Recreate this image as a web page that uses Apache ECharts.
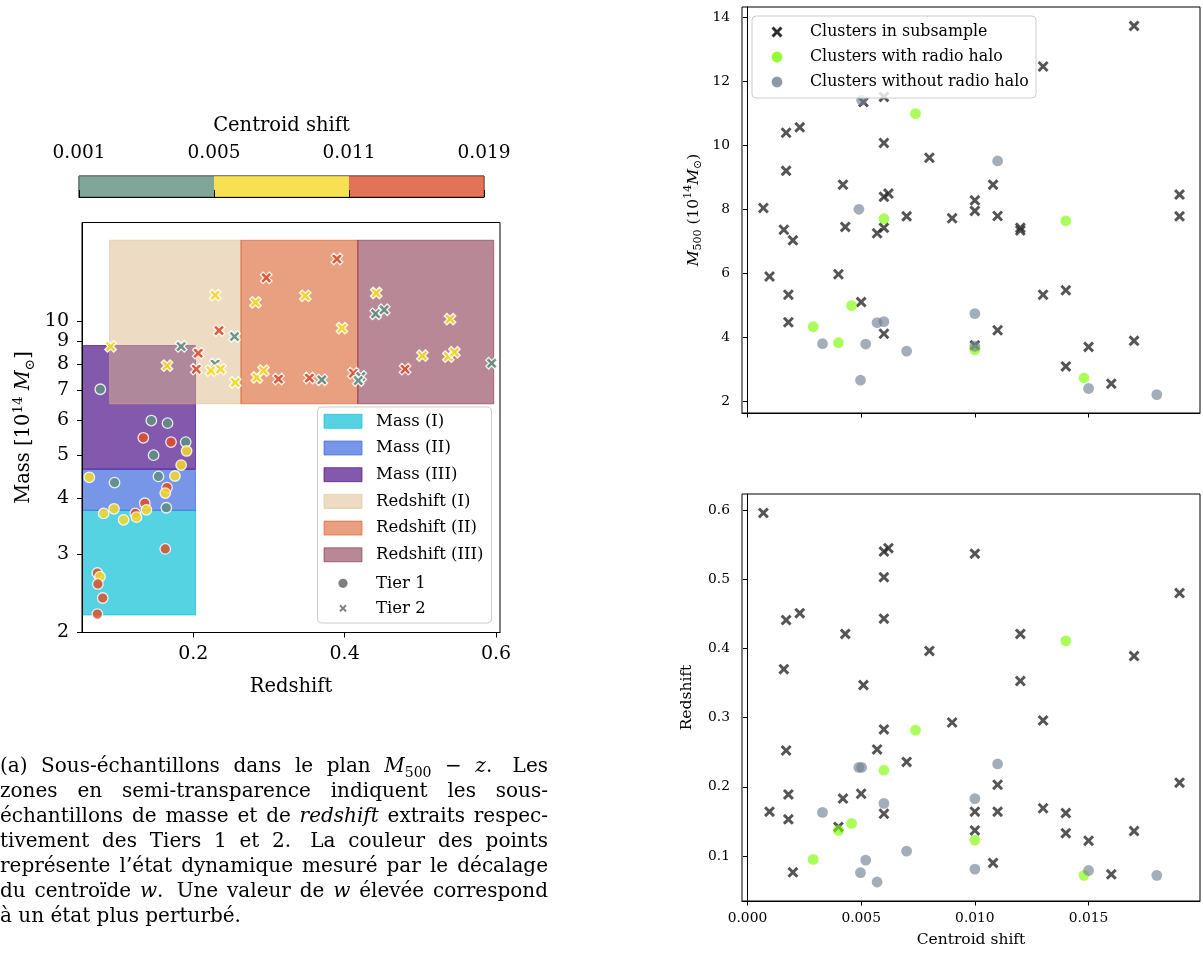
<!DOCTYPE html>
<html>
<head>
<meta charset="utf-8">
<script src="https://cdn.jsdelivr.net/npm/echarts@6/dist/echarts.min.js"></script>
<style>
  html, body { margin: 0; padding: 0; background: #fff; }
  #chart { width: 1203px; height: 956px; }
</style>
</head>
<body>
<div id="chart"></div>
<script>
// colour bar (centroid shift classes)
const shiftBounds = ['0.001', '0.005', '0.011', '0.019']
const shiftColors = ['#5f9080', '#f5d928', '#dc502d']

// left panel : sub-samples in the M500 - z plane
const redshiftTicks = [0.2, 0.4, 0.6]
const massTicks = [2, 3, 4, 5, 6, 7, 8, 9, 10]
const massBinNames = ['Mass (I)', 'Mass (II)', 'Mass (III)']
const massBinLimits = [[2.19, 3.76], [3.76, 4.65], [4.65, 8.81]]
const massBinRedshift = [0.053, 0.203]
const massBinColors = ['rgba(14,192,214,0.7)', 'rgba(62,105,222,0.7)', 'rgba(79,18,139,0.7)']
const zBinNames = ['Redshift (I)', 'Redshift (II)', 'Redshift (III)']
const zBinLimits = [[0.0895, 0.263], [0.263, 0.4174], [0.4174, 0.597]]
const zBinMass = [6.52, 15.18]
const zBinColors = ['rgba(222,184,135,0.5)', 'rgba(211,65,1,0.5)', 'rgba(115,17,45,0.5)']

// [redshift, mass 1e14 Msun, shift class]
const tier1 = [
  [0.0627, 4.46, 1], [0.096, 4.34, 0], [0.1446, 5.98, 0], [0.166, 5.90, 0],
  [0.134, 5.47, 2], [0.1706, 5.35, 2], [0.190, 5.35, 0], [0.1912, 5.11, 1],
  [0.1476, 5.00, 0], [0.184, 4.75, 1], [0.154, 4.48, 0], [0.1758, 4.49, 1],
  [0.1653, 4.23, 2], [0.163, 4.11, 1], [0.0816, 3.70, 1], [0.0953, 3.79, 1],
  [0.108, 3.58, 1], [0.1234, 3.70, 2], [0.125, 3.63, 1], [0.136, 3.90, 2],
  [0.1381, 3.77, 1], [0.1644, 3.81, 0], [0.163, 3.08, 2], [0.0733, 2.72, 2],
  [0.0768, 2.67, 1], [0.074, 2.57, 2], [0.0804, 2.39, 2], [0.0733, 2.20, 2],
  [0.0772, 7.03, 0]
]
const tier2 = [
  [0.0908, 8.77, 1], [0.1653, 7.94, 1], [0.184, 8.77, 0], [0.2066, 8.47, 2],
  [0.204, 7.80, 2], [0.229, 8.01, 0], [0.2234, 7.74, 1], [0.236, 7.80, 1],
  [0.2554, 7.28, 1], [0.2545, 9.23, 0], [0.234, 9.52, 2], [0.229, 11.43, 1],
  [0.2964, 12.50, 2], [0.2822, 11.01, 1], [0.284, 7.47, 1], [0.2928, 7.74, 1],
  [0.3126, 7.41, 2], [0.3898, 13.78, 2], [0.348, 11.39, 1], [0.3964, 9.64, 1],
  [0.3535, 7.45, 2], [0.3698, 7.38, 0], [0.4116, 7.64, 2], [0.4213, 7.51, 0],
  [0.418, 7.35, 0], [0.4418, 11.56, 1], [0.441, 10.38, 0], [0.4522, 10.60, 0],
  [0.5393, 10.10, 1], [0.5027, 8.36, 1], [0.537, 8.32, 1], [0.545, 8.51, 1],
  [0.4799, 7.80, 2], [0.5943, 8.04, 0]
]

// right panels : centroid shift vs M500 and redshift
const shiftTicks = [0, 0.005, 0.010, 0.015]
const m500Ticks = [2, 4, 6, 8, 10, 12, 14]
const zTicks = [0.1, 0.2, 0.3, 0.4, 0.5, 0.6]

const subShift = [0.0007, 0.00097, 0.0017, 0.0017, 0.0016, 0.0018, 0.0018, 0.0020, 0.0023,
  0.0040, 0.0042, 0.0043, 0.0051, 0.0050, 0.0057, 0.0060, 0.0060, 0.0060, 0.0062, 0.0060,
  0.0060, 0.0070, 0.0080, 0.0090, 0.0100, 0.0100, 0.0100, 0.0108, 0.0110, 0.0110, 0.0120,
  0.0120, 0.0130, 0.0130, 0.0140, 0.0140, 0.0150, 0.0160, 0.0170, 0.0170, 0.0190, 0.0190]
const subMass = [8.04, 5.90, 10.39, 9.20, 7.36, 5.33, 4.47, 7.03, 10.56,
  5.97, 8.77, 7.45, 11.35, 5.10, 7.25, 11.51, 10.07, 8.39, 8.49, 7.42,
  4.11, 7.78, 9.61, 7.72, 8.28, 7.95, 3.75, 8.77, 7.79, 4.22, 7.42,
  7.34, 12.46, 5.33, 5.47, 3.09, 3.70, 2.55, 13.73, 3.89, 8.46, 7.78]
const subRedshift = [0.596, 0.164, 0.441, 0.2525, 0.370, 0.189, 0.153, 0.0764, 0.451,
  0.142, 0.183, 0.421, 0.347, 0.190, 0.254, 0.540, 0.503, 0.443, 0.545, 0.283,
  0.161, 0.236, 0.3965, 0.293, 0.537, 0.164, 0.137, 0.090, 0.203, 0.164, 0.421,
  0.353, 0.296, 0.169, 0.162, 0.133, 0.122, 0.0735, 0.389, 0.136, 0.480, 0.206]

const haloShift = [0.00739, 0.0060, 0.0140, 0.00458, 0.00289, 0.0040, 0.0100, 0.0148]
const haloMass = [10.99, 7.71, 7.64, 4.99, 4.33, 3.83, 3.61, 2.73]
const haloRedshift = [0.282, 0.224, 0.411, 0.147, 0.095, 0.137, 0.123, 0.072]

const noHaloShift = [0.00502, 0.0110, 0.0049, 0.0100, 0.0057, 0.0060, 0.0033, 0.0052,
  0.0070, 0.0100, 0.00497, 0.0150, 0.0180]
const noHaloMass = [11.41, 9.51, 8.00, 4.74, 4.46, 4.49, 3.80, 3.79, 3.57, 3.72, 2.66, 2.40, 2.21]
const noHaloRedshift = [0.228, 0.233, 0.228, 0.183, 0.0624, 0.176, 0.163, 0.094, 0.107,
  0.081, 0.076, 0.079, 0.072]

// caption under the left panel
const captionLines = [
  '(a) Sous-échantillons dans le plan *M*_500 − *z*. Les',
  'zones en semi-transparence indiquent les sous-',
  'échantillons de masse et de *redshift* extraits respec-',
  'tivement des Tiers 1 et 2. La couleur des points',
  'représente l’état dynamique mesuré par le décalage',
  'du centroïde *w*. Une valeur de *w* élevée correspond',
  'à un état plus perturbé.'
]

const FONT = '"DejaVu Serif", serif'
const X_BOLD = 'path://M0,2.3L2.3,0L5,2.7L7.7,0L10,2.3L7.3,5L10,7.7L7.7,10L5,7.3L2.3,10L0,7.7L2.7,5Z'
const X_PTS = [[0, 1.9], [1.9, 0], [5, 3.1], [8.1, 0], [10, 1.9], [6.9, 5], [10, 8.1], [8.1, 10], [5, 6.9], [1.9, 10], [0, 8.1], [3.1, 5]]
const X_THIN = 'path://M' + X_PTS.map((p) => p.join(',')).join('L') + 'Z'
const HALO = 'rgba(124,252,0,0.8)'
const NOHALO = 'rgba(112,128,144,0.8)'
const CROSS = '#2b2b2b'

const zip = (a, b) => a.map((v, i) => [v, b[i]])
const log10 = Math.log10

function rectSeries(name, x, y, color, xi) {
  return {
    name: name,
    type: 'custom',
    xAxisIndex: xi,
    yAxisIndex: xi,
    clip: true,
    silent: true,
    data: [[x[0], x[1], y[0], y[1]]],
    renderItem: function (params, api) {
      const p0 = api.coord([api.value(0), api.value(2)])
      const p1 = api.coord([api.value(1), api.value(3)])
      return {
        type: 'rect',
        shape: { x: p0[0], y: p1[1], width: p1[0] - p0[0], height: p0[1] - p1[1] },
        style: { fill: color, stroke: color, lineWidth: 1 },
      }
    },
  }
}

function axisBase(extra) {
  return Object.assign({
    type: 'value',
    splitLine: { show: false },
    axisLine: { show: true, lineStyle: { color: '#000', width: 1 } },
    nameTextStyle: { fontFamily: FONT, color: '#000' },
    z: 5,
  }, extra)
}

function ticks(values, len) {
  return { show: true, customValues: values, length: len, lineStyle: { color: '#000', width: 1 } }
}

function labels(values, size, margin, fmt) {
  return { show: true, customValues: values, fontFamily: FONT, fontSize: size, color: '#000', margin: margin, formatter: fmt }
}

// justified caption, one text element per word piece
function buildCaption() {
  const ctx = document.createElement('canvas').getContext('2d')
  const left = 0, width = 548, top = 767, step = 25
  const fontOf = (k) => (k === 'it' ? 'italic ' : '') + (k === 'sub' ? 14 : 20) + 'px ' + FONT
  ctx.font = fontOf('rm')
  const spaceW = ctx.measureText(' ').width
  const els = []
  captionLines.forEach((line, i) => {
    const y = top + i * step
    const words = line.split(' ').map((w) => {
      const segs = []
      w.replace(/\*([^*]+)\*|_([^\s*_]+)|([^*_]+)/g, (m, it, sub, rm) => {
        segs.push(it ? ['it', it] : sub ? ['sub', sub] : ['rm', rm])
      })
      let wd = 0
      segs.forEach((s) => { ctx.font = fontOf(s[0]); s.push(ctx.measureText(s[1]).width); wd += s[2] })
      return { segs: segs, width: wd, plain: w.replace(/\*/g, '') }
    })
    const total = words.reduce((a, w) => a + w.width, 0)
    const weights = words.slice(0, -1).map((w) => (/\.$/.test(w.plain) ? 1.5 : 1))
    const last = i === captionLines.length - 1
    const unit = last ? spaceW : (width - total) / weights.reduce((a, b) => a + b, 0)
    let x = left
    words.forEach((w, k) => {
      w.segs.forEach((s) => {
        els.push({
          type: 'text', x: x, y: y + (s[0] === 'sub' ? 6 : 0), silent: true,
          style: { text: s[1], font: fontOf(s[0]), fill: '#000', textVerticalAlign: 'middle', verticalAlign: 'middle' },
        })
        x += s[2]
      })
      if (k < weights.length) x += unit * weights[k]
    })
  })
  return els
}

function legendText(x, y, text, size) {
  return { type: 'text', x: x, y: y, z: 101, silent: true,
    style: { text: text, font: size + 'px ' + FONT, fill: '#000', textVerticalAlign: 'middle', verticalAlign: 'middle' } }
}

function legendCross(cx, cy, size, color) {
  const k = size / 10
  return { type: 'polygon', z: 101, silent: true,
    shape: { points: X_PTS.map((p) => [cx - size / 2 + p[0] * k, cy - size / 2 + p[1] * k]) },
    style: { fill: color } }
}

function buildLegends() {
  const els = []
  // left panel legend
  els.push({ type: 'rect', z: 100, silent: true, shape: { x: 317.5, y: 407, width: 174, height: 216, r: 4 },
    style: { fill: 'rgba(255,255,255,0.8)', stroke: '#cccccc', lineWidth: 1 } })
  const names = massBinNames.concat(zBinNames)
  const colors = massBinColors.concat(zBinColors)
  names.forEach((n, i) => {
    const y = 421.3 + i * 26.7
    els.push({ type: 'rect', z: 101, silent: true, shape: { x: 324, y: y - 7, width: 38, height: 14 },
      style: { fill: colors[i], stroke: colors[i], lineWidth: 1 } })
    els.push(legendText(376, y, n, 16.5))
  })
  els.push({ type: 'circle', z: 101, silent: true, shape: { cx: 343, cy: 583.3, r: 4.6 }, style: { fill: '#808080' } })
  els.push(legendText(376, 583.3, 'Tier 1', 16.5))
  els.push(legendCross(343, 608.3, 7.4, '#808080'))
  els.push(legendText(376, 608.3, 'Tier 2', 16.5))

  // right panel legend
  els.push({ type: 'rect', z: 100, silent: true, shape: { x: 752, y: 16, width: 284, height: 82, r: 4 },
    style: { fill: 'rgba(255,255,255,0.8)', stroke: '#cccccc', lineWidth: 1 } })
  els.push(legendCross(777, 32, 11, CROSS))
  els.push(legendText(810, 32, 'Clusters in subsample', 15.8))
  els.push({ type: 'circle', z: 101, silent: true, shape: { cx: 777, cy: 57, r: 5.4 }, style: { fill: HALO } })
  els.push(legendText(810, 57, 'Clusters with radio halo', 15.8))
  els.push({ type: 'circle', z: 101, silent: true, shape: { cx: 777, cy: 82, r: 5.4 }, style: { fill: NOHALO } })
  els.push(legendText(810, 82, 'Clusters without radio halo', 15.8))
  return els
}

const chart = echarts.init(document.getElementById('chart'), null, { renderer: 'canvas' })

const gridStyle = { show: true, borderColor: '#000', borderWidth: 1, backgroundColor: 'transparent', containLabel: false, outerBoundsMode: 'none' }

const series = []
// colour bar cells
series.push({
  name: 'colorbar', type: 'custom', xAxisIndex: 0, yAxisIndex: 0, silent: true,
  data: shiftColors.map((c, i) => [i, i + 1, i]),
  renderItem: function (params, api) {
    const p0 = api.coord([api.value(0), 0])
    const p1 = api.coord([api.value(1), 1])
    return { type: 'rect', shape: { x: p0[0], y: p1[1], width: p1[0] - p0[0], height: p0[1] - p1[1] },
      style: { fill: shiftColors[api.value(2)], opacity: 0.8 } }
  },
})
massBinNames.forEach((n, i) => {
  series.push(rectSeries(n, massBinRedshift, massBinLimits[i].map(log10), massBinColors[i], 1))
})
zBinNames.forEach((n, i) => {
  series.push(rectSeries(n, zBinLimits[i], zBinMass.map(log10), zBinColors[i], 1))
})
series.push({
  name: 'Tier 1', type: 'scatter', xAxisIndex: 1, yAxisIndex: 1, silent: true,
  symbol: 'circle', symbolSize: 10.5,
  data: tier1.map((d) => [d[0], log10(d[1]), d[2]]),
  itemStyle: { color: (p) => shiftColors[p.data[2]], borderColor: '#fff', borderWidth: 1.3, opacity: 0.85 },
})
series.push({
  name: 'Tier 2', type: 'scatter', xAxisIndex: 1, yAxisIndex: 1, silent: true,
  symbol: X_BOLD, symbolSize: 11.5,
  data: tier2.map((d) => [d[0], log10(d[1]), d[2]]),
  itemStyle: { color: (p) => shiftColors[p.data[2]], borderColor: '#fff', borderWidth: 1.3, opacity: 0.9 },
})
// right panels
;[[2, subMass, haloMass, noHaloMass], [3, subRedshift, haloRedshift, noHaloRedshift]].forEach((g) => {
  series.push({ name: 'Clusters in subsample', type: 'scatter', xAxisIndex: g[0], yAxisIndex: g[0], silent: true,
    symbol: X_THIN, symbolSize: 11, data: zip(subShift, g[1]), itemStyle: { color: CROSS } })
  series.push({ name: 'Clusters with radio halo', type: 'scatter', xAxisIndex: g[0], yAxisIndex: g[0], silent: true,
    symbol: 'circle', symbolSize: 10.8, data: zip(haloShift, g[2]), itemStyle: { color: HALO } })
  series.push({ name: 'Clusters without radio halo', type: 'scatter', xAxisIndex: g[0], yAxisIndex: g[0], silent: true,
    symbol: 'circle', symbolSize: 10.8, data: zip(noHaloShift, g[3]), itemStyle: { color: NOHALO } })
})

const cbIdx = [0, 1, 2, 3]
const option = {
  animation: false,
  backgroundColor: '#fff',
  grid: [
    Object.assign({ left: 79, top: 176, width: 405, height: 21 }, gridStyle),
    Object.assign({ left: 82, top: 222.5, width: 418, height: 410 }, gridStyle),
    Object.assign({ left: 742, top: 7, width: 458, height: 406 }, gridStyle),
    Object.assign({ left: 742, top: 494, width: 458, height: 407 }, gridStyle),
  ],
  xAxis: [
    axisBase({ gridIndex: 0, min: 0, max: 3, position: 'top',
      axisTick: ticks(cbIdx, 7), axisLabel: labels(cbIdx, 18.5, 13, (v) => shiftBounds[Math.round(v)]),
      name: 'Centroid shift', nameLocation: 'middle', nameGap: 40,
      nameTextStyle: { fontFamily: FONT, fontSize: 19.5, color: '#000' } }),
    axisBase({ gridIndex: 1, min: 0.053, max: 0.6053,
      axisTick: ticks(redshiftTicks, 5), axisLabel: labels(redshiftTicks, 19, 12, (v) => v.toFixed(1)),
      name: 'Redshift', nameLocation: 'middle', nameGap: 44,
      nameTextStyle: { fontFamily: FONT, fontSize: 19.5, color: '#000' } }),
    axisBase({ gridIndex: 2, min: -0.00024, max: 0.0199,
      axisTick: ticks(shiftTicks, 4.5), axisLabel: { show: false } }),
    axisBase({ gridIndex: 3, min: -0.00024, max: 0.0199,
      axisTick: ticks(shiftTicks, 4.5), axisLabel: labels(shiftTicks, 13.8, 10, (v) => v.toFixed(3)),
      name: 'Centroid shift', nameLocation: 'middle', nameGap: 31,
      nameTextStyle: { fontFamily: FONT, fontSize: 15.5, color: '#000' } }),
  ],
  yAxis: [
    { type: 'value', gridIndex: 0, min: 0, max: 1, show: false },
    axisBase({ gridIndex: 1, min: log10(2), max: 1.2211,
      axisTick: ticks(massTicks.map(log10), 5),
      axisLabel: labels(massTicks.map(log10), 19, 13, (v) => String(Math.round(Math.pow(10, v)))),
      name: 'Mass [10{sup|14} {it|M}{sub|⊙}]', nameLocation: 'middle', nameGap: 45,
      nameTextStyle: { fontFamily: FONT, fontSize: 19.5, color: '#000', lineHeight: 26,
        rich: {
          sup: { fontFamily: FONT, fontSize: 13.5, color: '#000', verticalAlign: 'top' },
          sub: { fontFamily: FONT, fontSize: 13.5, color: '#000', verticalAlign: 'bottom' },
          it: { fontFamily: FONT, fontSize: 19.5, color: '#000', fontStyle: 'italic' },
        } } }),
    axisBase({ gridIndex: 2, min: 1.635, max: 14.32,
      axisTick: ticks(m500Ticks, 4.5), axisLabel: labels(m500Ticks, 13.8, 12, (v) => String(v)),
      name: '{it|M}{sub|500} (10{sup|14}{it|M}{sub|⊙})', nameLocation: 'middle', nameGap: 38,
      nameTextStyle: { fontFamily: FONT, fontSize: 15.5, color: '#000', lineHeight: 21,
        rich: {
          sup: { fontFamily: FONT, fontSize: 11, color: '#000', verticalAlign: 'top' },
          sub: { fontFamily: FONT, fontSize: 11, color: '#000', verticalAlign: 'bottom' },
          it: { fontFamily: FONT, fontSize: 15.5, color: '#000', fontStyle: 'italic' },
        } } }),
    axisBase({ gridIndex: 3, min: 0.0349, max: 0.6233,
      axisTick: ticks(zTicks, 4.5), axisLabel: labels(zTicks, 13.8, 12, (v) => v.toFixed(1)),
      name: 'Redshift', nameLocation: 'middle', nameGap: 47,
      nameTextStyle: { fontFamily: FONT, fontSize: 15.5, color: '#000' } }),
  ],
  series: series,
  graphic: { elements: buildLegends().concat(buildCaption()) },
}

chart.setOption(option)
</script>
</body>
</html>
